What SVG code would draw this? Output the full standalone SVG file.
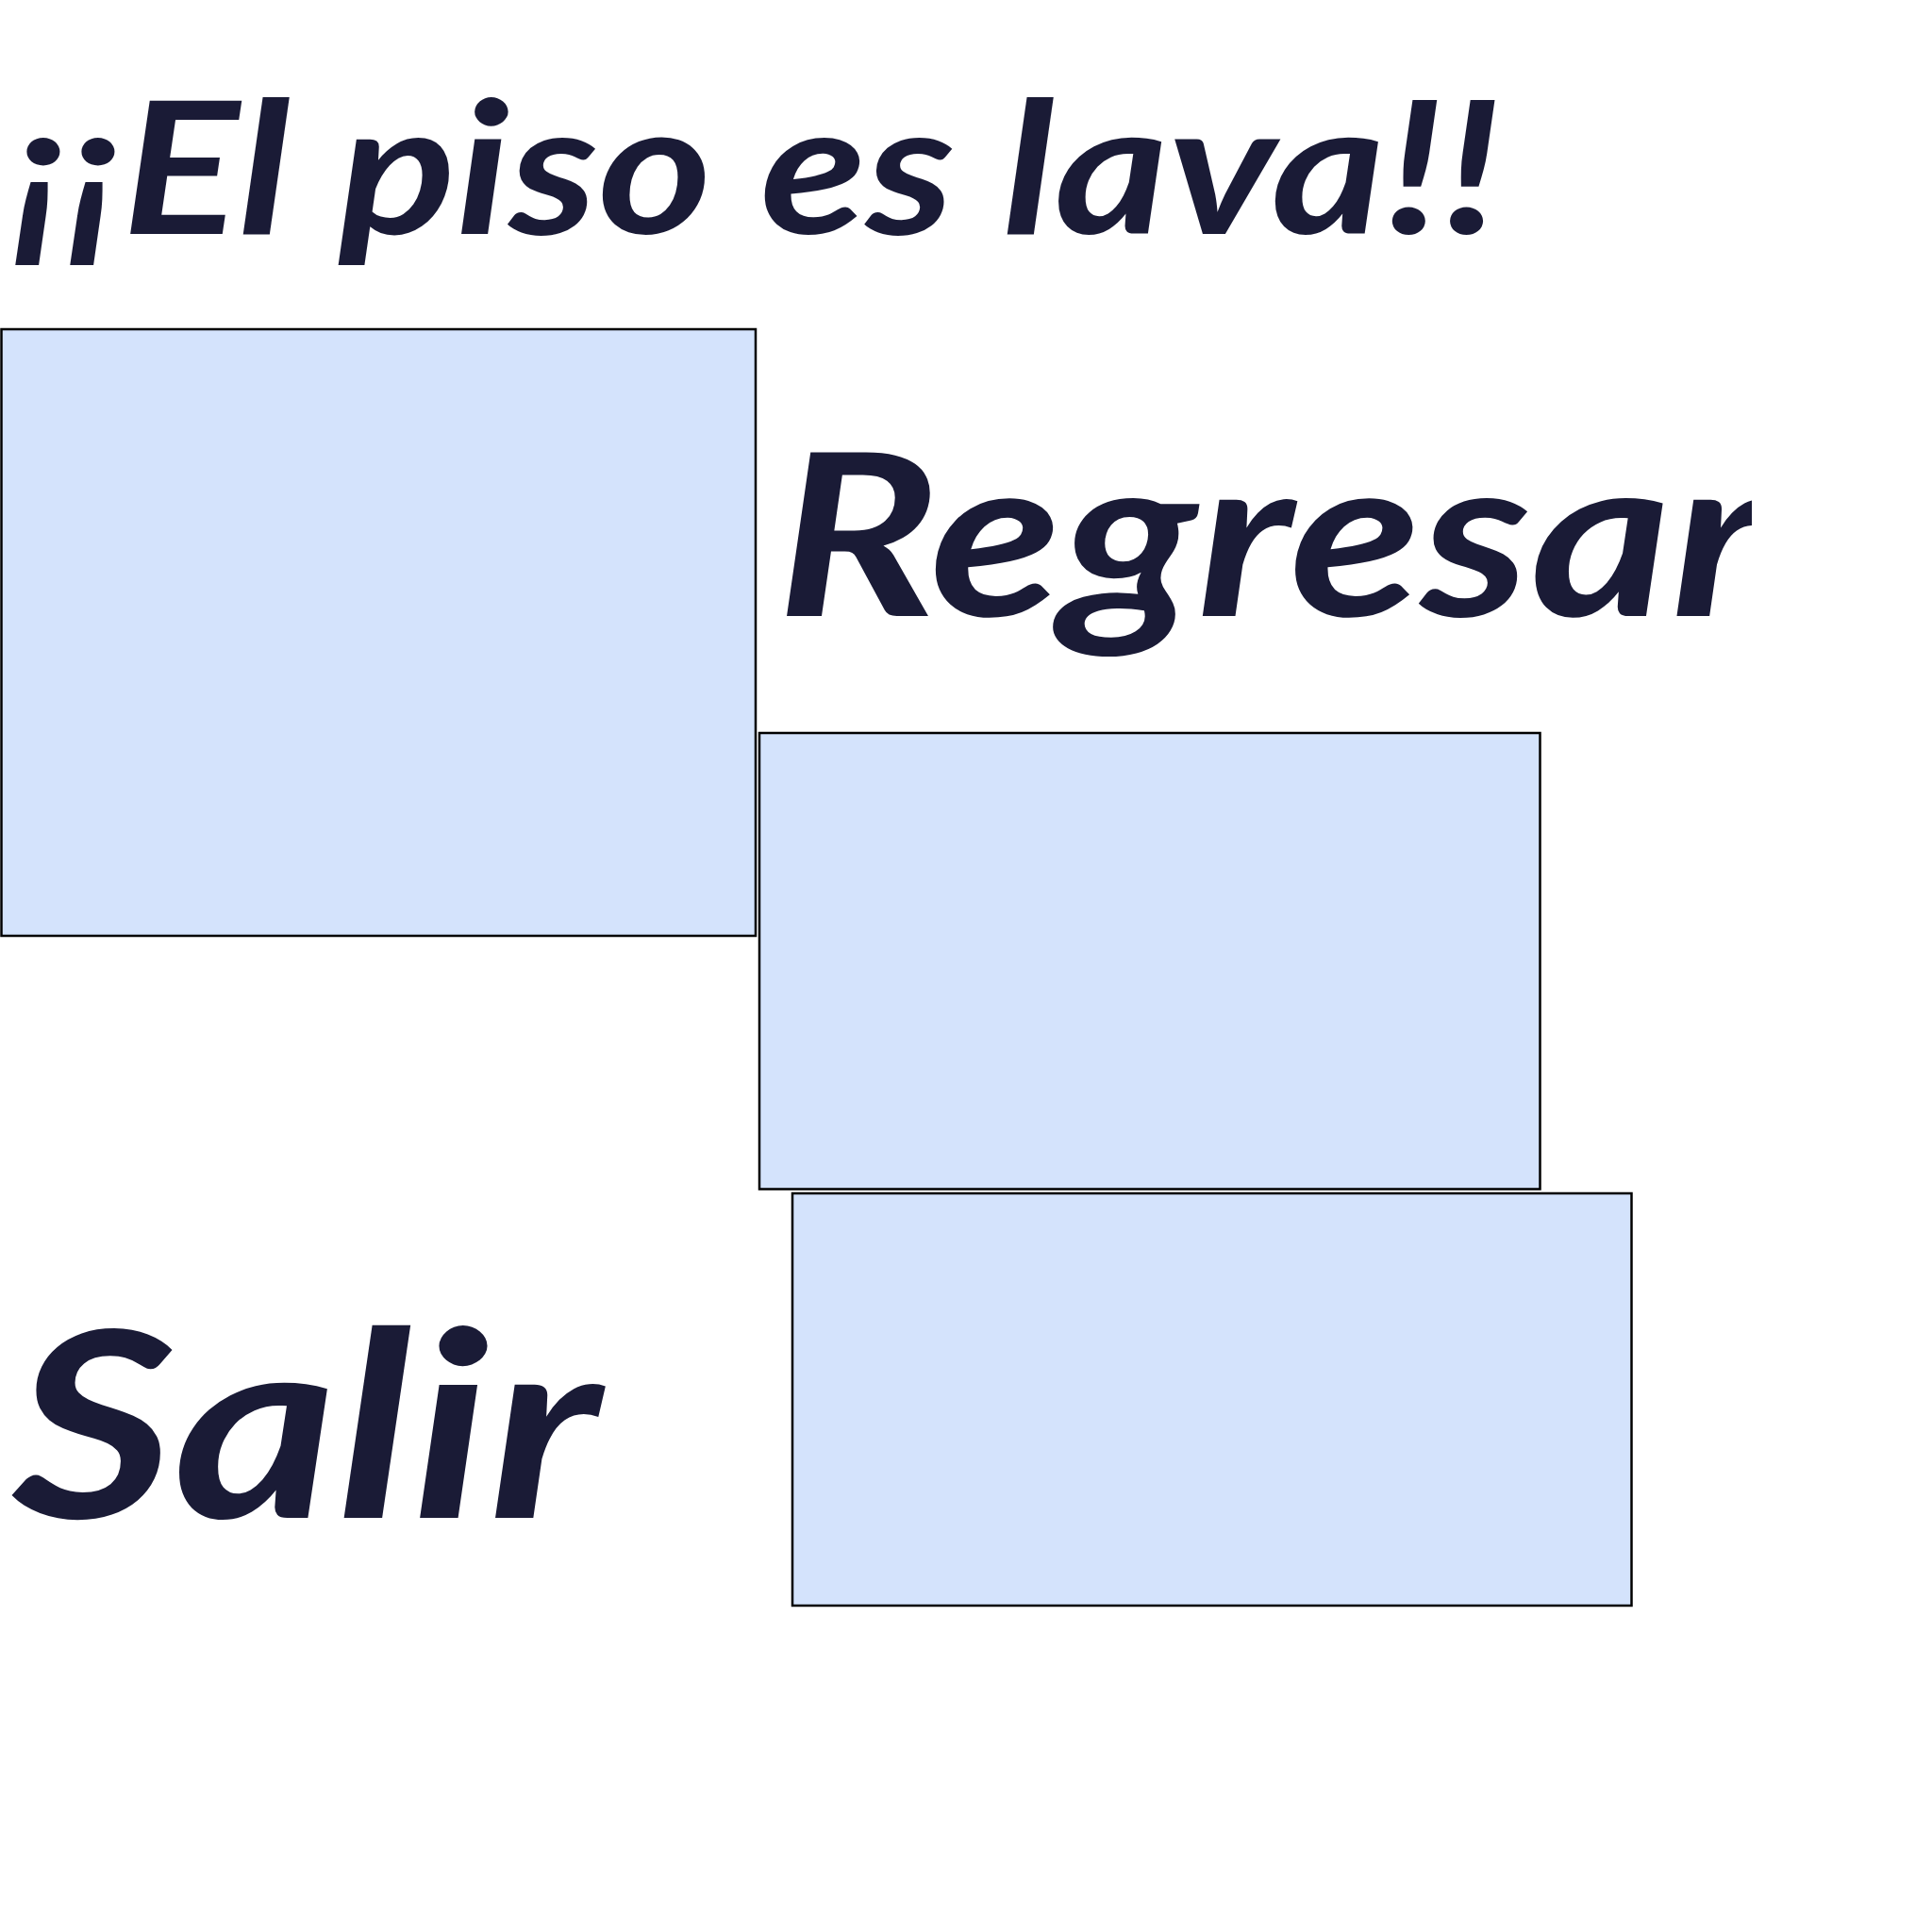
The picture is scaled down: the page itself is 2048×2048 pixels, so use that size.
<svg xmlns="http://www.w3.org/2000/svg" width="2048" height="2048" viewBox="0 0 2048 2048">
<style>
.box{fill:#d4e3fc;stroke:#000;stroke-width:2.5}
.t{fill:#1a1b36;font-family:"Comic Sans MS","Lato","Noto Sans",sans-serif;font-style:italic;font-weight:bold}
</style>
<defs>
<clipPath id="clipR"><rect x="800" y="440" width="1057" height="320"/></clipPath>
</defs>
<rect width="2048" height="2048" fill="#fff"/>
<g id="title"><text class="t" x="13" y="248" font-size="195" textLength="1578" lengthAdjust="spacingAndGlyphs">¡¡El piso es lava!!</text></g>
<g id="box1"><rect class="box" x="1.5" y="349" width="799.5" height="643"/></g>
<g id="regresar"><text class="t" x="823" y="653" font-size="240" textLength="1050" lengthAdjust="spacingAndGlyphs" clip-path="url(#clipR)">Regresar</text></g>
<g id="box2"><rect class="box" x="805" y="777" width="827.5" height="483.5"/></g>
<g id="box3"><rect class="box" x="840" y="1265" width="889.5" height="437"/></g>
<g id="salir"><text class="t" x="13" y="1609" font-size="275" textLength="623" lengthAdjust="spacingAndGlyphs">Salir</text></g>
<g id="connectors"/>
</svg>
